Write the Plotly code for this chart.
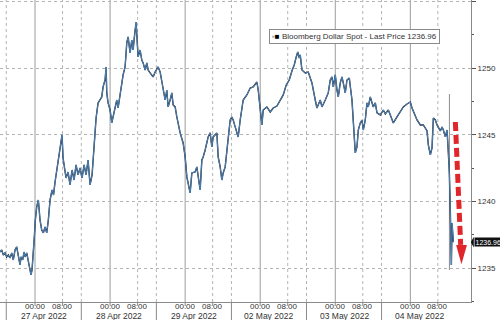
import plotly.graph_objects as go

# ---- data (hours since 27 Apr 2022 00:00 on the session axis, price) ----
hours = [-11.2, -10.66, -10.14, -9.6, -9.06, -8.54, -8.0, -7.46, -6.94, -6.4, -5.86, -5.34, -4.8, -4.48,
         -3.94, -3.52, -3.2, -2.66, -2.14, -1.6, -1.28, -0.96, -0.54, -0.22, 0.1, 0.54, 1.06, 1.6, 2.14,
         2.66, 3.2, 3.74, 4.26, 4.8,
         5.44, 5.92, 6.4, 6.88, 7.36, 7.84, 8.32, 8.64, 8.96, 9.44, 9.92, 10.56, 11.2, 11.84, 12.48, 13.12,
         13.76, 14.4, 15.04, 15.68, 16.32, 16.96, 17.6, 18.24, 18.88, 19.52,
         20.16, 20.8, 21.34, 21.76, 22.4, 22.72, 22.94, 23.36, 24.0, 24.54, 24.96, 25.6, 26.14, 26.56, 27.2,
         27.74, 28.16, 28.8, 29.34, 29.76, 30.4, 30.94, 31.36, 31.84, 32.32, 32.64, 32.96, 33.6, 34.14,
         34.56, 35.2, 35.74, 36.16, 36.8, 37.76, 38.4, 39.36, 40.0, 40.96, 41.6, 42.14, 42.56, 43.2, 43.74,
         44.16, 44.8, 45.34,
         46.4, 47.36, 48.0, 48.54, 48.96, 49.6, 50.14, 51.2, 51.74, 52.8, 53.34, 53.76, 54.4, 54.94, 55.36,
         56.0, 56.54, 56.96, 57.6, 58.14, 58.56, 59.2, 59.74, 60.16, 60.8, 61.34, 61.76, 62.4, 62.94, 63.36,
         64.0, 64.54, 64.96, 65.6, 66.14, 66.56, 67.74,
         68.8, 69.76, 70.94, 71.36, 72.0, 72.54, 72.96, 74.14, 75.2, 76.16, 77.34, 78.4, 79.36, 80.32,
         81.28, 82.24, 82.88, 83.52, 84.0, 84.48, 84.8,
         85.34, 86.4, 87.36, 88.54, 89.6, 90.14, 91.2, 91.74, 92.8, 93.76, 94.4, 94.94, 95.36, 96.0, 96.54,
         96.96, 97.6, 98.14, 98.56, 99.2, 99.74, 100.48, 101.34, 101.76, 102.4, 102.94, 103.36, 104.0,
         104.54, 104.96, 105.6, 106.14, 106.56, 107.2, 107.74, 108.16, 108.8, 109.34, 110.4, 111.36, 112.0,
         112.96, 113.6, 114.56, 115.74, 116.8, 117.76, 118.94, 120.0, 120.54, 121.6, 122.14, 123.2, 124.16,
         125.34, 125.76, 126.4, 126.94, 127.36, 128.0, 128.54, 128.96, 129.6, 130.14, 130.56, 131.2, 131.74,
         132.16, 132.48, 132.8, 133.02, 133.12, 133.34, 133.66, 133.76]

price = [1236.22, 1236.37, 1235.99, 1236.15, 1235.85, 1235.99, 1235.77, 1236.15, 1235.62, 1236.37, 1236.60,
         1235.77, 1235.25, 1235.85, 1235.62, 1236.22, 1235.85, 1236.15, 1235.47, 1235.02, 1234.50, 1234.87,
         1236.90, 1237.35, 1238.62, 1239.60, 1240.12, 1238.62, 1237.87, 1237.65, 1238.10, 1237.65, 1238.62,
         1240.12,
         1240.87, 1240.50, 1241.47, 1242.22, 1242.97, 1243.50, 1244.25, 1245.00, 1243.27, 1242.52, 1241.77,
         1242.22, 1241.25, 1242.37, 1241.62, 1242.75, 1242.00, 1242.52, 1241.77, 1242.75, 1242.00, 1243.12,
         1241.25, 1242.00, 1243.87, 1246.27,
         1247.40, 1247.62, 1247.85, 1248.60, 1249.12, 1250.10, 1248.15, 1247.40, 1246.87, 1245.90, 1246.35,
         1246.87, 1247.62, 1247.02, 1248.00, 1248.90, 1249.50, 1250.10, 1251.90, 1252.35, 1251.15, 1252.12,
         1251.37, 1252.50, 1253.47, 1252.12, 1250.85, 1251.37, 1250.62, 1250.40, 1249.87, 1250.40, 1249.87,
         1249.65, 1249.35, 1249.72, 1250.10, 1249.72, 1248.60, 1247.62, 1248.37, 1247.10, 1247.62, 1248.15,
         1247.25, 1247.10, 1246.35,
         1245.15, 1244.40, 1243.35, 1241.85, 1241.40, 1240.65, 1242.15, 1242.22, 1242.60, 1240.87, 1243.12,
         1243.35, 1243.87, 1244.40, 1244.85, 1245.15, 1244.10, 1244.85, 1245.00, 1245.15, 1243.35, 1242.60,
         1241.62, 1242.15, 1242.60, 1243.87, 1245.15, 1246.12, 1246.35, 1246.12, 1245.60, 1245.15, 1244.85,
         1246.12, 1247.10, 1247.62, 1248.00,
         1248.52, 1248.60, 1248.97, 1248.37, 1246.87, 1245.75, 1246.87, 1247.10, 1246.72, 1247.02, 1247.17,
         1247.62, 1248.00, 1248.75, 1249.12, 1249.87, 1250.25, 1250.85, 1251.22, 1250.77, 1251.00,
         1249.87, 1249.65, 1249.72, 1248.90, 1247.62, 1247.02, 1247.62, 1247.10, 1247.62, 1248.15, 1249.12,
         1249.35, 1248.60, 1249.50, 1248.37, 1247.85, 1248.90, 1249.35, 1248.90, 1248.15, 1249.12, 1249.27,
         1247.62, 1245.60, 1243.65, 1244.10, 1245.37, 1245.90, 1246.12, 1245.37, 1246.12, 1247.40, 1247.10,
         1247.85, 1247.40, 1247.10, 1247.40, 1246.65, 1246.50, 1246.87, 1246.57, 1246.87, 1246.50, 1245.90,
         1246.35, 1246.80, 1247.10, 1247.32, 1247.47, 1247.02, 1246.50, 1246.12, 1245.75, 1245.75, 1245.30,
         1244.25, 1243.50, 1244.02, 1246.27, 1246.12, 1245.75, 1245.60, 1245.30, 1245.60, 1245.37, 1244.85,
         1245.37, 1243.65, 1242.15, 1239.15, 1236.60, 1235.25, 1238.40, 1237.35, 1236.96]

spike_hours = [132.5, 132.5]
spike_price = [1248.07, 1234.87]
last_price = 1236.96

day_starts = [0, 24, 48, 72, 96, 120]
day_labels = ["27 Apr 2022", "28 Apr 2022", "29 Apr 2022", "02 May 2022", "03 May 2022", "04 May 2022"]
time_labels = ["00:00", "08:00"]
y_ticks = [1235, 1240, 1245, 1250, 1255]
series_name = "Bloomberg Dollar Spot - Last Price"

# session-axis offsets (axis geometry, not data)
OPEN_OFF = 8.8
SEP_OFF = -9.2

X_RANGE = [-11.2, 139.4]
Y_RANGE = [1232.47, 1255.12]

FONT = "Liberation Sans"
AX_COL = "#8a8a8a"
GRID_COL = "#b4b4b4"

fig = go.Figure()
fig.add_trace(go.Scatter(x=spike_hours, y=spike_price, mode="lines",
                         line=dict(color="#8c8c8c", width=1), hoverinfo="skip", showlegend=False))
fig.add_trace(go.Scatter(x=hours, y=price, mode="lines",
                         line=dict(color="#1a1a1a", width=1.4), showlegend=False))
fig.add_trace(go.Scatter(x=hours, y=price, mode="lines",
                         line=dict(color="#4f8fd0", width=0.9), showlegend=False))

shapes = []
annotations = []
for d, lab in zip(day_starts, day_labels):
    shapes.append(dict(type="line", xref="x", yref="paper", x0=d, x1=d, y0=0, y1=1,
                       line=dict(color="#9c9c9c", width=1), layer="below"))
    shapes.append(dict(type="line", xref="x", yref="paper", x0=d + OPEN_OFF, x1=d + OPEN_OFF, y0=0, y1=1,
                       line=dict(color=GRID_COL, width=1, dash="dot"), layer="below"))
    sep = d + SEP_OFF
    shapes.append(dict(type="line", xref="x", yref="paper", x0=sep, x1=sep, y0=0, y1=1,
                       line=dict(color=GRID_COL, width=1, dash="dot"), layer="below"))
    shapes.append(dict(type="line", xref="x", yref="paper", x0=sep, x1=sep, y0=0, y1=-0.07,
                       line=dict(color=AX_COL, width=1)))
    for t in (d, d + OPEN_OFF):
        shapes.append(dict(type="line", xref="x", yref="paper", x0=t, x1=t, y0=0, y1=-0.01,
                           line=dict(color=AX_COL, width=1)))
    for t, tl in zip((d, d + OPEN_OFF), time_labels):
        annotations.append(dict(x=t, y=-0.0135, xref="x", yref="paper", text=tl, showarrow=False,
                                xanchor="center", yanchor="middle",
                                font=dict(family=FONT, size=8, color="#333333")))
    annotations.append(dict(x=(sep + sep + 24) / 2, y=-0.047, xref="x", yref="paper", text=lab,
                            showarrow=False, xanchor="center", yanchor="middle",
                            font=dict(family=FONT, size=8.5, color="#333333")))

# red dashed arrow
shapes.append(dict(type="line", xref="x", yref="y", x0=134.4, y0=1245.97, x1=136.1, y1=1236.75,
                   line=dict(color="#e0262b", width=5, dash="9px,4px")))
shapes.append(dict(type="path", xref="x", yref="y",
                   path="M 134.65 1236.75 L 138.1 1236.75 L 136.35 1235.3 Z",
                   fillcolor="#e0262b", line=dict(color="#e0262b", width=0)))

# last price tag
annotations.append(dict(x=473.5 / 471, y=last_price, xref="paper", yref="y", text=f"{last_price:.2f}",
                        showarrow=False, xanchor="left", yanchor="middle", bgcolor="#111111",
                        borderpad=0.5, font=dict(family=FONT, size=7, color="white")))
shapes.append(dict(type="path", xref="paper", yref="y",
                   path=f"M {470.8 / 471} {last_price} L {473.8 / 471} {last_price + 0.4} L {473.8 / 471} {last_price - 0.4} Z",
                   fillcolor="#111111", line=dict(width=0)))

# legend box
annotations.append(dict(x=269 / 471, y=1 - 29 / 302, xref="paper", yref="paper",
                        text=f"<span style='color:#b0b0b0'>▪</span><span style='color:#000'>■</span> {series_name} {last_price:.2f}",
                        showarrow=False, xanchor="left", yanchor="top", align="left",
                        bgcolor="white", bordercolor="#8a8a8a", borderwidth=1, borderpad=2,
                        font=dict(family=FONT, size=8, color="#333333")))

fig.update_layout(
    width=500, height=320,
    margin=dict(l=0, r=29, t=0, b=18),
    paper_bgcolor="white", plot_bgcolor="white",
    showlegend=False,
    shapes=shapes, annotations=annotations,
    xaxis=dict(range=X_RANGE, showgrid=False, zeroline=False, showticklabels=False, ticks="",
               showline=True, linecolor=AX_COL, linewidth=1),
    yaxis=dict(range=Y_RANGE, side="right", tickvals=y_ticks, ticks="outside", ticklen=4,
               tickcolor="#555555", showline=True, linecolor=AX_COL, linewidth=1,
               showgrid=True, gridcolor=GRID_COL, griddash="dot", zeroline=False,
               tickfont=dict(family=FONT, size=8, color="#333333"),
               minor=dict(tickvals=[1232.5, 1237.5, 1242.5, 1247.5, 1252.5], ticks="outside",
                          ticklen=2, tickcolor="#555555", showgrid=False)),
    font=dict(family=FONT),
)

fig.write_html("out.html")
